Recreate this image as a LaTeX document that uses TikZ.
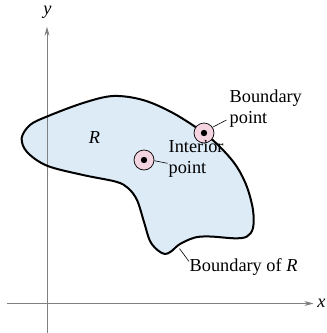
\documentclass[tikz,border=0pt]{standalone}
\usepackage{fontspec}
\setmainfont{Liberation Serif}
\usetikzlibrary{arrows.meta}
\definecolor{regionblue}{HTML}{DDEBF7}
\definecolor{ptpink}{HTML}{F4D4E0}
\definecolor{axisgray}{HTML}{808080}
\tikzset{
  axis/.style={draw=axisgray, line width=0.9pt, -{Stealth[length=9pt,width=5pt]}},
  ptcircle/.style={circle, draw=black, line width=0.7pt, fill=ptpink, minimum size=20pt, inner sep=0pt},
  leader/.style={draw=black, line width=0.6pt},
  lbl/.style={inner sep=0pt, font=\fontsize{18.3}{20.7}\selectfont, align=left},
}
\begin{document}
\begin{tikzpicture}[x=1pt,y=-1pt]
\useasboundingbox (0,0) rectangle (327,333);
% axes
\coordinate (xs) at (6.7,303.5);
\coordinate (xe) at (313.5,303.5);
\coordinate (ys) at (47,333);
\coordinate (ye) at (47,26.7);
\draw[axis] (xs) -- (xe);
\draw[axis] (ys) -- (ye);
\node[lbl, font=\fontsize{18.3}{20.7}\selectfont\itshape] (xl) at (321.5,303.5) {x};
\node[lbl, font=\fontsize{18.3}{20.7}\selectfont\itshape] (yl) at (47.5,12) {y};
% region
\fill[regionblue] plot[smooth cycle, tension=0.55] coordinates {
 (21.7,138) (30,125) (47,116.5) (83,103) (113,96) (143,100) (173,113)
 (204,133) (223,150) (237,167) (247,187) (253,210) (253,228) (247,236.5)
 (235,238.3) (210,236.5) (195,237.5) (180,244) (171,251.5) (165,254)
 (158,250.5) (150,241) (144,222) (137,200) (128,188) (116,181.7)
 (83,175) (47,165.7) (27,152)};
\draw[axisgray, line width=0.9pt] (47,116.5) -- (47,165.7);
\draw[black, line width=2pt] plot[smooth cycle, tension=0.55] coordinates {
 (21.7,138) (30,125) (47,116.5) (83,103) (113,96) (143,100) (173,113)
 (204,133) (223,150) (237,167) (247,187) (253,210) (253,228) (247,236.5)
 (235,238.3) (210,236.5) (195,237.5) (180,244) (171,251.5) (165,254)
 (158,250.5) (150,241) (144,222) (137,200) (128,188) (116,181.7)
 (83,175) (47,165.7) (27,152)};
\node[lbl, font=\fontsize{18.3}{20.7}\selectfont\itshape] (R) at (94.5,137.5) {R};
% points
\node[ptcircle] (bp) at (204,133) {};
\fill (bp.center) circle (3.2pt);
\node[ptcircle] (ip) at (144,160) {};
\fill (ip.center) circle (3.2pt);
% labels
\node[lbl, anchor=base west] (bptext) at (229.5,123.3) {Boundary\\point};
\node[lbl, anchor=base west] (iptext) at (168.5,173.3) {Interior\\point};
\node[lbl, anchor=base west] (bdtext) at (189.5,271.7) {Boundary of \textit{R}};
% leaders
\coordinate (bpl) at (226.5,120);
\coordinate (ipl) at (167.5,163.3);
\coordinate (bdc) at (179.5,248.5);
\coordinate (bdl) at (189,261.5);
\draw[leader] (bp.34) -- (bpl);
\draw[leader] (ip.-4) -- (ipl);
\draw[leader] (bdc) -- (bdl);
\end{tikzpicture}
\end{document}
